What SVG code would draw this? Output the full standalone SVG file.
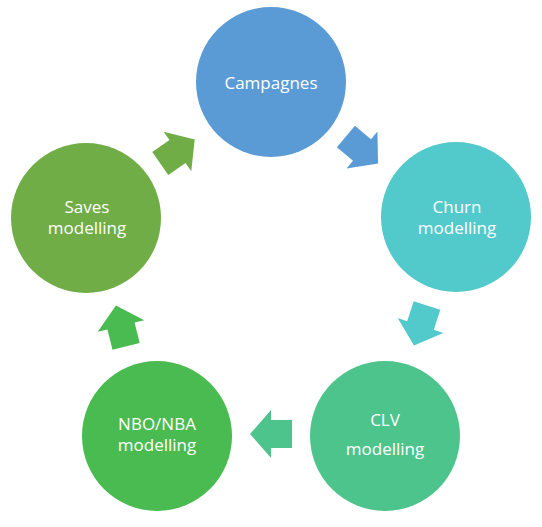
<svg xmlns="http://www.w3.org/2000/svg" width="542" height="527" viewBox="0 0 542 527">
<style>
text{font-family:"Open Sans","Liberation Sans",sans-serif;font-size:17px;fill:#ffffff;text-anchor:middle}
</style>
<defs>
<path id="arr" d="M-21,-14 L0,-14 L0,-24 L21,0 L0,24 L0,14 L-21,14 Z"/>
</defs>
<rect width="542" height="527" fill="#ffffff"/>
<g id="connectors">
<use href="#arr" fill="#5B9BD5" transform="translate(362,150) rotate(40)"/>
<use href="#arr" fill="#52C9CA" transform="translate(420.5,325.5) rotate(108)"/>
<use href="#arr" fill="#4DC48B" transform="translate(271,434) rotate(180)"/>
<use href="#arr" fill="#4ABB50" transform="translate(121,326) rotate(256)"/>
<use href="#arr" fill="#70AD47" transform="translate(177.5,151.5) rotate(-35)"/>
</g>
<g id="campagnes">
<circle cx="271" cy="82" r="75" fill="#5B9BD5"/>
<text x="271" y="89">Campagnes</text>
</g>
<g id="churn">
<circle cx="456" cy="217" r="75" fill="#52C9CA"/>
<text x="457" y="213">Churn</text>
<text x="457" y="234">modelling</text>
</g>
<g id="clv">
<circle cx="385" cy="436" r="75" fill="#4DC48B"/>
<text x="385" y="426">CLV</text>
<text x="385" y="455">modelling</text>
</g>
<g id="nbo">
<circle cx="157" cy="436" r="75" fill="#4ABB50"/>
<text x="157" y="430">NBO/NBA</text>
<text x="157" y="451">modelling</text>
</g>
<g id="saves">
<circle cx="86" cy="218" r="75" fill="#70AD47"/>
<text x="87" y="213">Saves</text>
<text x="87" y="234">modelling</text>
</g>
</svg>
